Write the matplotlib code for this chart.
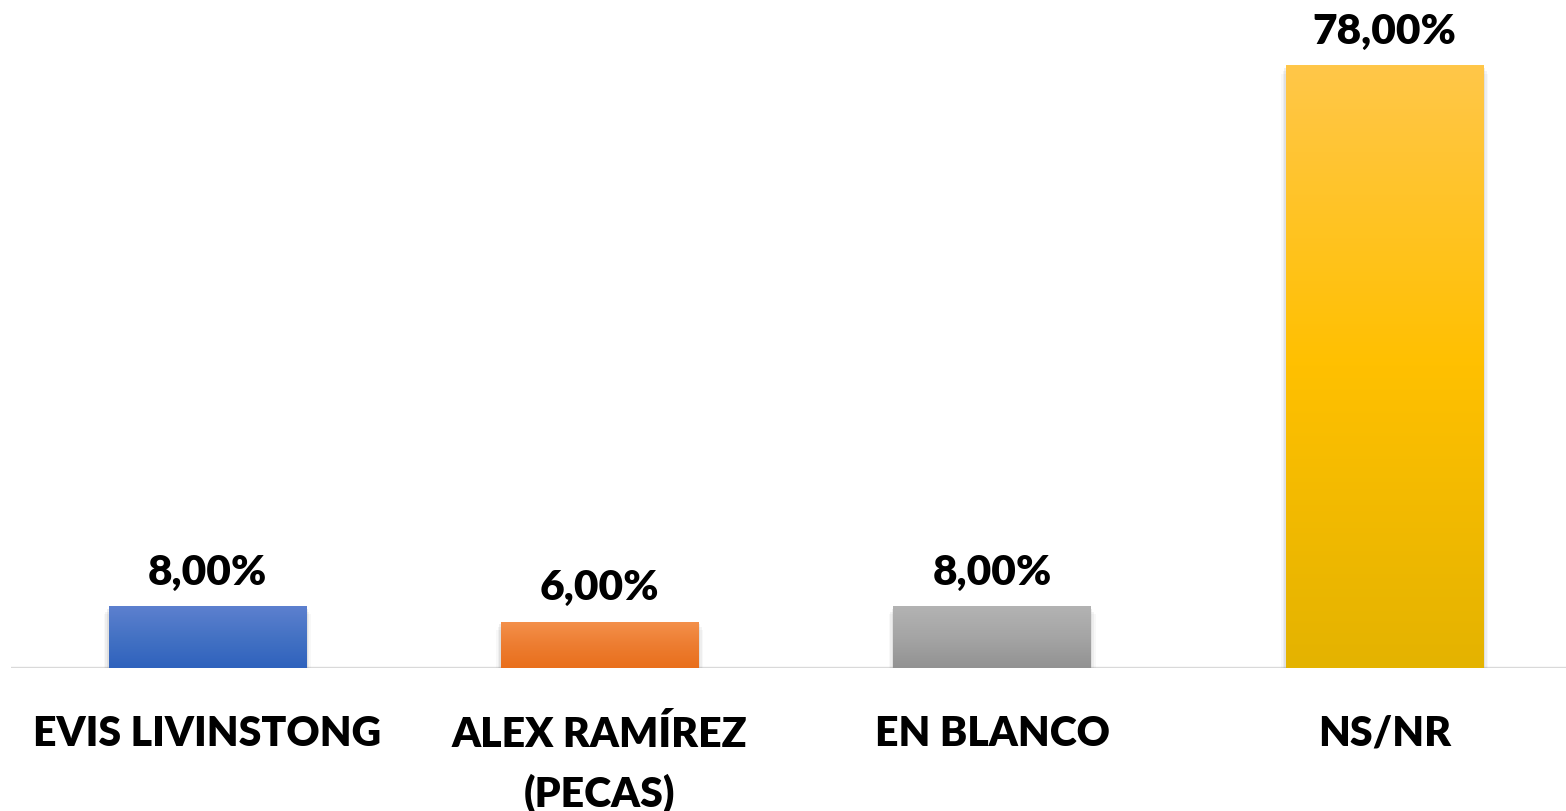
import matplotlib.pyplot as plt
import numpy as np
from matplotlib.colors import LinearSegmentedColormap
from matplotlib.patches import Rectangle

categories = ["EVIS LIVINSTONG", "ALEX RAMÍREZ\n(PECAS)", "EN BLANCO", "NS/NR"]
values = [8.0, 6.0, 8.0, 78.0]
# top / middle / bottom colours of each bar's gradient
top_colors = ["#5d80cf", "#f4914c", "#b3b3b3", "#ffc749"]
mid_colors = ["#4472c4", "#ed7d31", "#a5a5a5", "#ffc000"]
bot_colors = ["#2f62bd", "#e96f1c", "#929292", "#e4b300"]

plt.rcParams["font.family"] = ["Lato", "DejaVu Sans"]

W, H = 1566, 812
fig = plt.figure(figsize=(W / 100, H / 100), dpi=100)
ax = fig.add_axes([11 / W, 1 - 669 / H, (W - 11) / W, 669 / H])

bar_w = 0.503
x = np.arange(len(categories))
ax.set_xlim(-0.5, 3.462)
ax.set_ylim(0, 86.6)

grad = np.linspace(1, 0, 256).reshape(-1, 1)
for i, v in enumerate(values):
    left = x[i] - bar_w / 2
    # soft shadow, mostly to the sides and below
    for k, a in enumerate([0.12, 0.08, 0.05]):
        dx = 0.004 * (k + 1)
        ax.add_patch(Rectangle((left - dx, -0.35 * (k + 1)), bar_w + 2 * dx, v,
                               facecolor="#7f7f7f", edgecolor="none", alpha=a, zorder=1))
    cmap = LinearSegmentedColormap.from_list(
        f"g{i}", [bot_colors[i], mid_colors[i], top_colors[i]])
    rect = Rectangle((left, 0), bar_w, v, facecolor="none", edgecolor="none", zorder=2)
    ax.add_patch(rect)
    im = ax.imshow(grad, cmap=cmap, aspect="auto", extent=(left, left + bar_w, 0, v),
                   zorder=2, vmin=0, vmax=1)
    im.set_clip_path(rect)
    ax.text(x[i], v + 2.0, f"{v:.2f}".replace(".", ",") + "%", ha="center", va="bottom",
            fontsize=30.5, fontweight="heavy", color="black", zorder=3)

ax.set_xlim(-0.5, 3.462)
ax.set_ylim(0, 86.6)
ax.axhline(0, color="#d9d9d9", lw=2.4, zorder=0.5)
ax.set_xticks(x)
ax.set_xticklabels(categories, fontsize=29.5, fontweight="heavy", linespacing=1.6, va="top")
ax.tick_params(axis="x", length=0, pad=33)
ax.set_yticks([])
for s in ax.spines.values():
    s.set_visible(False)

fig.savefig("out.png", dpi=100)
